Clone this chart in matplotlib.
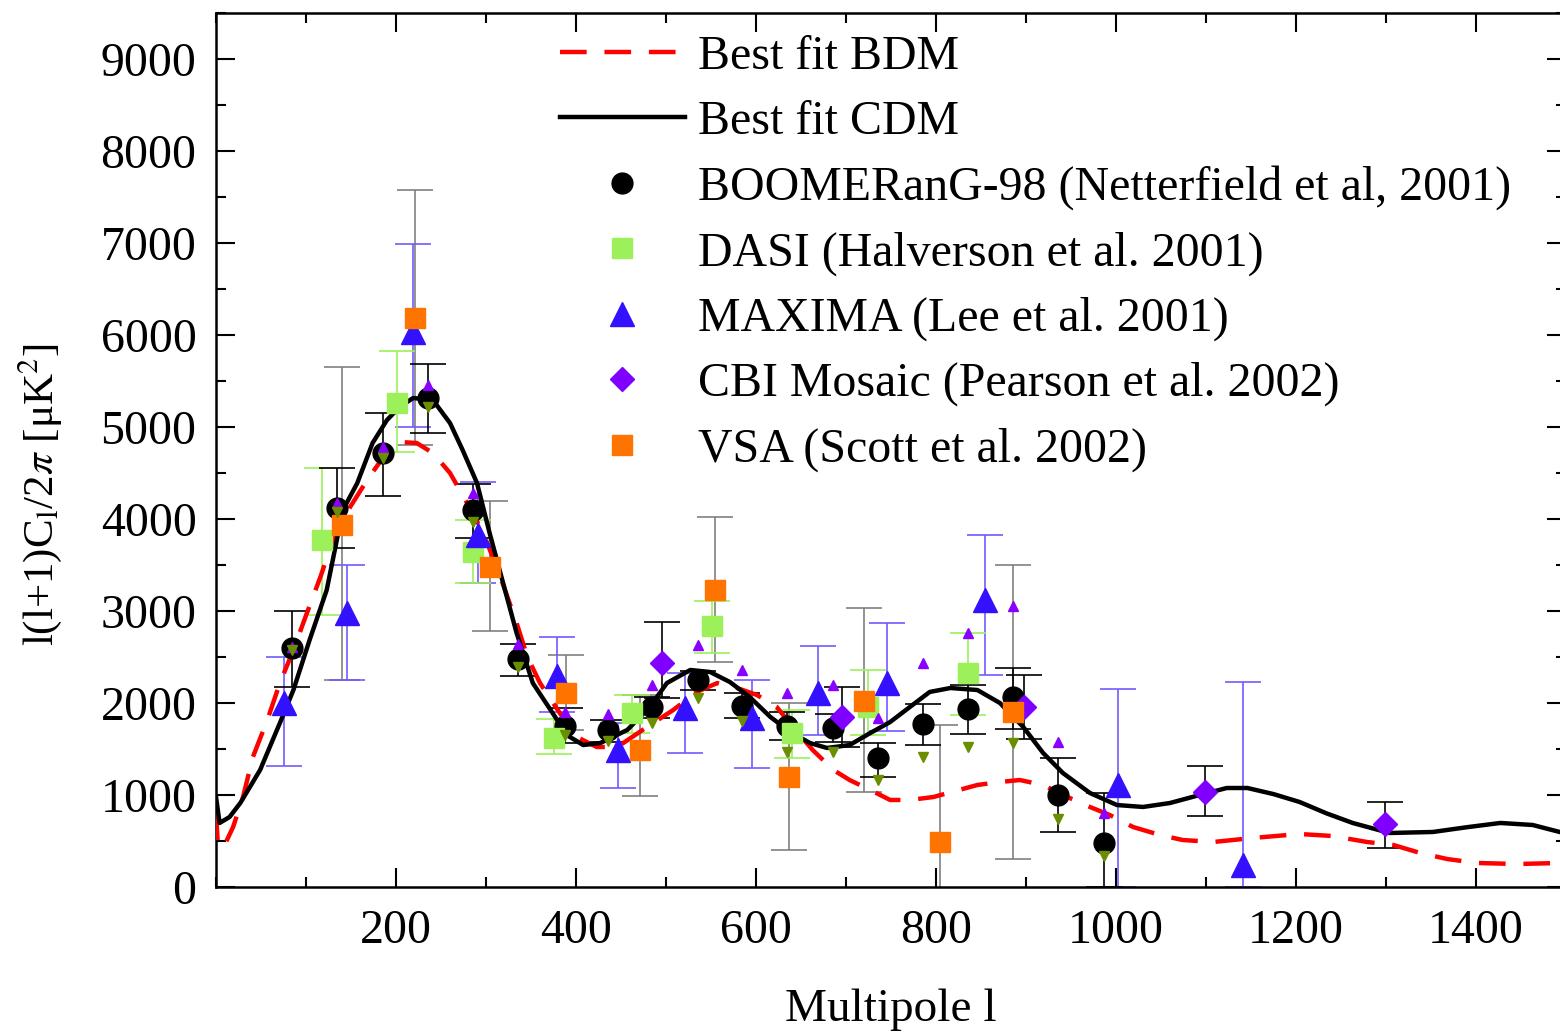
import matplotlib
matplotlib.use('Agg')
import matplotlib.pyplot as plt
import numpy as np
from matplotlib.ticker import MultipleLocator

plt.rcParams['font.family'] = ['Liberation Serif', 'DejaVu Serif']
plt.rcParams['mathtext.fontset'] = 'stix'

# best fit curves
cdm_l = [0, 4, 15, 27, 49, 71, 86, 104, 123, 141, 157, 174, 190, 204, 219, 241, 260,
         274, 290, 304, 319, 334, 352, 374, 390, 408, 427, 457, 482, 501, 527, 549, 571,
         593, 616, 638, 660, 679, 704, 727, 749, 771, 793, 816, 846, 871, 897, 919, 941,
         971, 1001, 1030, 1060, 1093, 1123, 1146, 1175, 1204, 1234, 1263, 1304, 1352,
         1390, 1427, 1463, 1493]
cdm_y = [980, 696, 760, 913, 1272, 1783, 2141, 2685, 3228, 4098, 4391, 4826, 5076, 5217,
         5315, 5293, 5043, 4750, 4391, 3848, 3304, 2761, 2217, 1891, 1650, 1543, 1565,
         1707, 1957, 2217, 2359, 2337, 2228, 2065, 1848, 1685, 1565, 1511, 1543, 1674,
         1793, 1957, 2120, 2163, 2141, 2000, 1739, 1457, 1239, 1022, 891, 870, 913, 1000,
         1076, 1076, 1010, 924, 800, 696, 587, 598, 650, 696, 674, 598]

bdm_l = [0, 2, 8, 19, 30, 41, 57, 71, 86, 101, 116, 130, 149, 168, 186, 204, 223, 241,
         260, 279, 297, 316, 334, 346, 360, 382, 401, 423, 446, 474, 508, 534, 557, 579,
         601, 623, 641, 663, 686, 704, 727, 749, 771, 797, 846, 871, 893, 919, 941, 971,
         993, 1019, 1049, 1074, 1108, 1152, 1204, 1241, 1279, 1308, 1338, 1368, 1401,
         1446, 1493]
bdm_y = [800, 478, 424, 652, 978, 1413, 1815, 2217, 2576, 2978, 3370, 3772, 4130, 4424,
         4674, 4837, 4826, 4717, 4500, 4174, 3848, 3370, 2870, 2500, 2217, 1891, 1630,
         1522, 1522, 1707, 1924, 2120, 2217, 2163, 2087, 1957, 1739, 1489, 1272, 1163,
         1054, 946, 946, 978, 1109, 1141, 1163, 1109, 1000, 870, 783, 652, 565, 511, 489,
         533, 576, 554, 489, 457, 370, 304, 261, 250, 261]

# BOOMERanG-98
boom_l = [84, 134, 185, 236, 285, 336, 388, 436, 484, 536, 584, 634, 686, 736, 786, 836, 886, 936, 987]
boom_y = [2598, 4120, 4717, 5315, 4098, 2478, 1750, 1707, 1957, 2250, 1967, 1750, 1728, 1402, 1772, 1935, 2065, 1000, 478]
boom_lo = [2174, 3685, 4250, 4935, 3790, 2293, 1560, 1576, 1837, 2141, 1837, 1600, 1576, 1196, 1543, 1663, 1717, 598, 0]
boom_hi = [3000, 4554, 5152, 5685, 4380, 2641, 1950, 1815, 2065, 2348, 2109, 1900, 1880, 1565, 1989, 2196, 2380, 1402, 1022]
boom_up = [2609, 4174, 4783, 5457, 4283, 2641, 1902, 1880, 2196, 2630, 2359, 2109, 2196, 1837, 2435, 2761, 3054, 1576, 804]
boom_dn = [2576, 4076, 4663, 5217, 3967, 2391, 1650, 1587, 1783, 2054, 1800, 1467, 1467, 1163, 1413, 1522, 1565, 739, 337]

# DASI
dasi_l = [118, 201, 286, 376, 462, 551, 640, 724, 836]
dasi_y = [3772, 5261, 3641, 1620, 1891, 2837, 1674, 1957, 2326]
dasi_lo = [2956, 4728, 3304, 1446, 1674, 2543, 1402, 1650, 1870]
dasi_hi = [4554, 5826, 3989, 1826, 2087, 3109, 1924, 2359, 2761]

# MAXIMA
max_l = [76, 145, 219, 291, 379, 447, 521, 596, 669, 746, 854, 1002, 1141]
max_y = [2000, 2978, 6033, 3826, 2293, 1489, 1946, 1837, 2109, 2217, 3120, 1109, 239]
max_lo = [1315, 2250, 5000, 3300, 1900, 1076, 1457, 1293, 1650, 1700, 2304, 0, 0]
max_hi = [2500, 3500, 6990, 4402, 2717, 1783, 2326, 2250, 2620, 2870, 3826, 2152, 2228]

# CBI Mosaic
cbi_l = [495, 695, 898, 1099, 1299]
cbi_y = [2435, 1848, 1957, 1033, 685]
cbi_lo = [2050, 1522, 1609, 772, 424]
cbi_hi = [2880, 2174, 2304, 1315, 924]

# VSA
vsa_l = [140, 221, 304, 389, 471, 554, 637, 720, 804, 886]
vsa_y = [3935, 6185, 3478, 2109, 1489, 3228, 1196, 2022, 489, 1902]
vsa_lo = [2250, 4804, 2783, 1707, 989, 2446, 402, 1033, -300, 304]
vsa_hi = [5650, 7576, 4196, 2522, 2087, 4022, 2000, 3033, 1761, 3500]

labels = ['Best fit BDM', 'Best fit CDM',
          'BOOMERanG-98 (Netterfield et al, 2001)',
          'DASI (Halverson et al. 2001)',
          'MAXIMA (Lee et al. 2001)',
          'CBI Mosaic (Pearson et al. 2002)',
          'VSA (Scott et al. 2002)']


def yerr(y, lo, hi):
    y = np.array(y)
    return [y - np.array(lo), np.array(hi) - y]


fig = plt.figure(figsize=(15.6, 10.34), dpi=100)
ax = fig.add_axes([216 / 1560, 147 / 1034, 1350 / 1560, 874 / 1034])

eb = dict(fmt='none', elinewidth=1.2, capsize=13, capthick=1.2, zorder=2)
ax.errorbar(vsa_l, vsa_y, yerr=yerr(vsa_y, vsa_lo, vsa_hi), ecolor='#808080', **eb)
ax.errorbar(max_l, max_y, yerr=yerr(max_y, max_lo, max_hi), ecolor='#6f5cff', **eb)
ax.errorbar(dasi_l, dasi_y, yerr=yerr(dasi_y, dasi_lo, dasi_hi), ecolor='#9cf05a', **eb)
ax.errorbar(boom_l, boom_y, yerr=yerr(boom_y, boom_lo, boom_hi), ecolor='black', **eb)
ax.errorbar(cbi_l, cbi_y, yerr=yerr(cbi_y, cbi_lo, cbi_hi), ecolor='black', **eb)

h_bdm, = ax.plot(bdm_l, bdm_y, color='red', lw=3.2, dashes=(6, 4), zorder=3)
h_cdm, = ax.plot(cdm_l, cdm_y, color='black', lw=3.2, zorder=3)

h_boom, = ax.plot(boom_l, boom_y, 'o', color='black', ms=15, zorder=4)
ax.plot(boom_l, boom_up, '^', color='#8a00ff', ms=7, zorder=5)
ax.plot(boom_l, boom_dn, 'v', color='#6b8e00', ms=7, zorder=5)
h_dasi, = ax.plot(dasi_l, dasi_y, 's', color='#9cf05a', ms=14, zorder=4)
h_max, = ax.plot(max_l, max_y, '^', color='#3311ff', ms=17, zorder=4)
h_cbi, = ax.plot(cbi_l, cbi_y, 'D', color='#7f00ff', ms=12, zorder=4)
h_vsa, = ax.plot(vsa_l, vsa_y, 's', color='#ff7400', ms=14, zorder=4)

ax.set_xlim(0, 1500)
ax.set_ylim(0, 9500)
ax.xaxis.set_minor_locator(MultipleLocator(100))
ax.yaxis.set_major_locator(MultipleLocator(1000))
ax.yaxis.set_minor_locator(MultipleLocator(500))
ax.set_xticks([200, 400, 600, 800, 1000, 1200, 1400])
ax.tick_params(which='both', direction='in', top=True, right=True, width=1.5,
               labelsize=34.5)
ax.tick_params(axis='x', pad=16)
ax.tick_params(axis='y', pad=14)
ax.tick_params(which='major', length=14)
ax.tick_params(which='minor', length=7)
for s in ax.spines.values():
    s.set_linewidth(1.8)

ax.set_xlabel('Multipole l', fontsize=34)
ax.xaxis.set_label_coords(0.5, -0.116)
fig.text(40 / 1560, 1 - 495 / 1034, r'l(l+1)C$_\mathrm{l}$/2$\pi$ [μK$^2$]',
         rotation=90, ha='center', va='center', fontsize=31)

ax.legend([h_bdm, h_cdm, h_boom, h_dasi, h_max, h_cbi, h_vsa], labels,
          loc='upper left', bbox_to_anchor=(560 / 1560, 1 - 35 / 1034),
          bbox_transform=fig.transFigure, frameon=False, fontsize=34.5,
          borderpad=0, borderaxespad=0, handlelength=2.6, handletextpad=0.28,
          labelspacing=0.44, numpoints=1)

fig.savefig('out.png', dpi=100)
